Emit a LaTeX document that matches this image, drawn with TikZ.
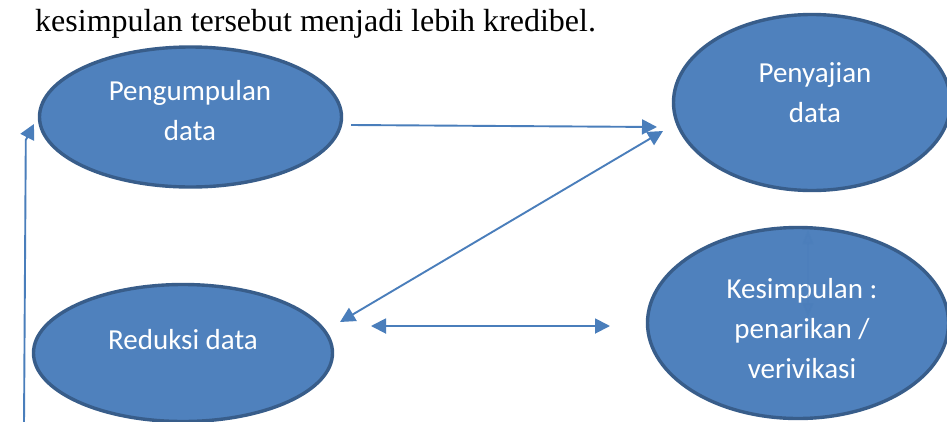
\documentclass[tikz,border=0pt]{standalone}
\usepackage{fontspec}
\setmainfont{Liberation Serif}
\newfontfamily\calib{Carlito}
\usetikzlibrary{shapes.geometric,arrows.meta}
\definecolor{blobfill}{HTML}{4F81BD}
\definecolor{blobline}{HTML}{385D8A}
\definecolor{arr}{HTML}{4A7EBB}
\begin{document}
\begin{tikzpicture}[x=1pt,y=-1pt,
  blob/.style={ellipse, draw=blobline, fill=blobfill, line width=3.4pt, inner sep=0pt},
  lbl/.style={font=\calib\fontsize{29}{40}\selectfont, text=white, align=center, anchor=base, inner sep=0pt},
  tipA/.style={-{Triangle[length=15pt,width=15pt]}},
  conn/.style={draw=arr, line width=1.9pt, tipA},
  dconn/.style={draw=arr, line width=1.9pt, {Triangle[length=15pt,width=15pt]}-{Triangle[length=15pt,width=15pt]}},
  faint/.style={draw=arr, opacity=0.4, line width=1.4pt, {Triangle[length=14pt,width=11pt]}-{Triangle[length=14pt,width=11pt]}}
]
\useasboundingbox (0,0) rectangle (947,421);
\fill[white] (0,0) rectangle (947,421);

\node[anchor=base west, inner sep=0pt, font=\fontsize{32}{38}\selectfont] (head) at (35,31) {kesimpulan tersebut menjadi lebih kredibel.};

\node[blob, minimum width=302pt, minimum height=140pt] (peng) at (190.5,117) {};
\node[blob, minimum width=277pt, minimum height=176pt] (saji) at (812,102.5) {};
\node[blob, minimum width=301pt, minimum height=191pt] (simp) at (798,323) {};
\node[blob, minimum width=299pt, minimum height=137pt] (redu) at (183,353) {};

\node[lbl] (tpeng) at (190,140) {Pengumpulan\\data};
\node[lbl] (tsaji) at (815,122) {Penyajian\\data};
\node[lbl] (tsimp) at (802,378) {Kesimpulan :\\penarikan /\\verivikasi};
\node[lbl] (tredu) at (183,349) {Reduksi data};

\coordinate (c1s) at (351,125);
\coordinate (c1e) at (657,127);
\coordinate (c2a) at (663,131);
\coordinate (c2b) at (340,322);
\coordinate (c3a) at (371,326);
\coordinate (c3b) at (610,326);
\coordinate (c4s) at (24,425);
\coordinate (c4m) at (25.8,140);
\coordinate (c4e) at (34,124);
\coordinate (c5a) at (808,230);
\coordinate (c5b) at (808,317);

\draw[conn] (c1s) -- (c1e);
\draw[dconn] (c2a) -- (c2b);
\draw[dconn] (c3a) -- (c3b);
\draw[conn] (c4s) -- (c4m) -- (c4e);
\draw[faint] (c5a) -- (c5b);
\end{tikzpicture}
\end{document}
